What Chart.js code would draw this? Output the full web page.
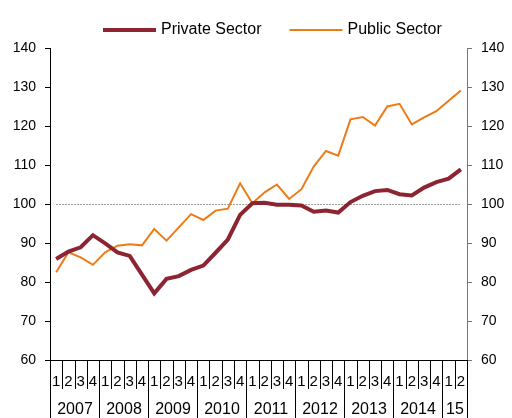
<!DOCTYPE html>
<html>
<head>
<meta charset="utf-8">
<script src="https://cdn.jsdelivr.net/npm/chart.js@4.4.1/dist/chart.umd.min.js"></script>
<style>
  body { margin: 0; background: #fff; }
  canvas { display: block; }
</style>
</head>
<body>
<canvas id="grafico" width="512" height="418"></canvas>
<script>
// quarterly index, 2007 Q1 .. 2015 Q2
const quarterTicks = ['1','2','3','4','1','2','3','4','1','2','3','4','1','2','3','4',
  '1','2','3','4','1','2','3','4','1','2','3','4','1','2','3','4','1','2'];
const yearTicks = ['2007','2008','2009','2010','2011','2012','2013','2014','15'];

const privateSector = [85.9, 87.8, 88.9, 92.0, 89.9, 87.6, 86.7, 81.9, 77.1, 80.8, 81.5, 83.1,
  84.2, 87.5, 90.9, 97.2, 100.2, 100.3, 99.8, 99.8, 99.6, 98.0, 98.3, 97.8,
  100.5, 102.1, 103.3, 103.6, 102.5, 102.2, 104.2, 105.6, 106.5, 108.9];
const publicSector = [82.5, 87.6, 86.3, 84.4, 87.6, 89.3, 89.7, 89.4, 93.6, 90.6, 94.0, 97.4,
  95.9, 98.3, 98.8, 105.3, 100.2, 103.0, 105.0, 101.3, 103.8, 109.6, 113.6, 112.4,
  121.7, 122.3, 120.1, 125.0, 125.7, 120.4, 122.2, 123.8, 126.5, 129.1];

const yMin = 60, yMax = 140, yStep = 10, refLine = 100;

// build category labels "2007 Q1" ...
var labels = [];
var yi = -1;
quarterTicks.forEach(function (q) {
  if (q === '1') yi++;
  labels.push(yearTicks[yi] + ' Q' + q);
});

const FONT = '"Liberation Sans", Arial, sans-serif';

// dotted reference line + two-level x axis + legend
const extras = {
  id: 'extras',
  beforeDatasetsDraw(chart) {
    const ctx = chart.ctx;
    const x = chart.scales.x, y = chart.scales.y;
    const yy = Math.round(y.getPixelForValue(refLine)) + 0.5;
    ctx.save();
    ctx.strokeStyle = '#9a9a9a';
    ctx.lineWidth = 1;
    ctx.setLineDash([2, 1]);
    ctx.beginPath();
    ctx.moveTo(x.getPixelForValue(0), yy);
    ctx.lineTo(x.getPixelForValue(labels.length - 1), yy);
    ctx.stroke();
    ctx.restore();
  },
  afterDraw(chart) {
    const ctx = chart.ctx;
    const x = chart.scales.x;
    const bottom = chart.chartArea.bottom;
    const step = x.getPixelForValue(1) - x.getPixelForValue(0);
    ctx.save();
    ctx.strokeStyle = '#000';
    ctx.lineWidth = 1;
    ctx.fillStyle = '#000';
    ctx.textAlign = 'center';
    ctx.textBaseline = 'middle';
    var yearStart = null, yIdx = -1;
    for (var i = 0; i <= quarterTicks.length; i++) {
      var edge = Math.round(x.getPixelForValue(i) - step / 2) + 0.5;
      var newYear = i === quarterTicks.length || quarterTicks[i] === '1';
      ctx.beginPath();
      ctx.moveTo(edge, bottom);
      ctx.lineTo(edge, newYear ? 418 : bottom + 29);
      ctx.stroke();
      if (newYear) {
        if (yearStart !== null) {
          ctx.font = '16px ' + FONT;
          ctx.fillText(yearTicks[yIdx], (yearStart + edge) / 2, bottom + 50);
        }
        yearStart = edge; yIdx++;
      }
      if (i < quarterTicks.length) {
        ctx.font = '15px ' + FONT;
        ctx.fillText(quarterTicks[i], x.getPixelForValue(i), bottom + 22);
      }
    }
    // legend
    ctx.font = '16px ' + FONT;
    ctx.textAlign = 'left';
    var lineLen = 53, gap = 5, space = 28;
    var lx = 103;
    chart.data.datasets.forEach(function (d) {
      ctx.strokeStyle = d.borderColor;
      ctx.lineWidth = d.borderWidth;
      ctx.beginPath();
      ctx.moveTo(lx, 30);
      ctx.lineTo(lx + lineLen, 30);
      ctx.stroke();
      ctx.fillText(d.label, lx + lineLen + gap, 30);
      lx += lineLen + gap + ctx.measureText(d.label).width + space;
    });
    ctx.restore();
  }
};

const yTicks = { stepSize: yStep, color: '#000', padding: 9, font: { family: FONT, size: 14 } };

new Chart(document.getElementById('grafico'), {
  type: 'line',
  data: {
    labels: labels,
    datasets: [
      {
        label: 'Private Sector',
        data: privateSector,
        borderColor: '#8C2431',
        borderWidth: 4,
        pointRadius: 0,
        tension: 0,
        yAxisID: 'y'
      },
      {
        label: 'Public Sector',
        data: publicSector,
        borderColor: '#EE7B16',
        borderWidth: 2,
        pointRadius: 0,
        tension: 0,
        yAxisID: 'y'
      }
    ]
  },
  options: {
    responsive: false,
    animation: false,
    layout: { padding: { top: 48, left: 0, right: 0, bottom: 0 } },
    plugins: { legend: { display: false }, tooltip: { enabled: false } },
    scales: {
      x: {
        offset: true,
        grid: { display: false },
        border: { display: true, color: '#000' },
        ticks: { display: false },
        afterFit: function (s) { s.height = 58; }
      },
      y: {
        position: 'left',
        min: yMin, max: yMax,
        ticks: yTicks,
        grid: { drawOnChartArea: false, tickLength: 5, tickColor: '#000' },
        border: { color: '#000' },
        afterFit: function (s) { s.width = 50; }
      },
      y2: {
        position: 'right',
        min: yMin, max: yMax,
        ticks: yTicks,
        grid: { drawOnChartArea: false, tickLength: 5, tickColor: '#777' },
        border: { color: '#777' },
        afterFit: function (s) { s.width = 45; }
      }
    }
  },
  plugins: [extras]
});
</script>
</body>
</html>
